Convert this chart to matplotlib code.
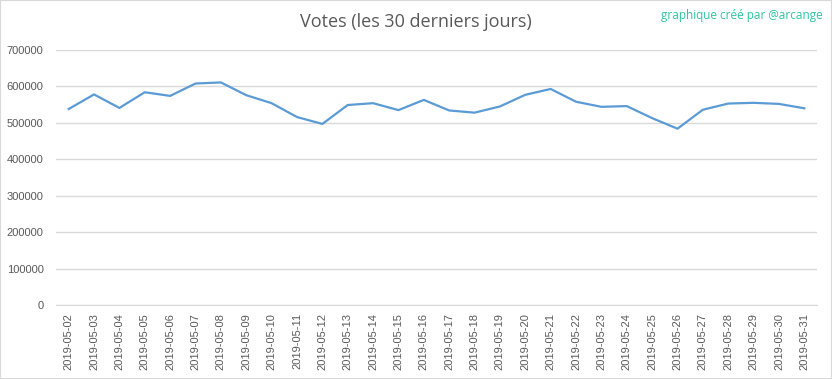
import matplotlib
matplotlib.use("Agg")
import matplotlib.pyplot as plt

dates = ["2019-05-%02d" % d for d in range(2, 32)]
votes = [538000, 578000, 541000, 584000, 574000, 608000, 611000, 576000, 554000, 516000,
         497000, 549000, 554000, 535000, 563000, 534000, 528000, 545000, 577000, 593000,
         558000, 544000, 546000, 513000, 484000, 536000, 553000, 555000, 552000, 540000]
yticks = [0, 100000, 200000, 300000, 400000, 500000, 600000, 700000]

plt.rcParams['font.family'] = ['Liberation Sans', 'DejaVu Sans']

fig = plt.figure(figsize=(8.32, 3.79), dpi=100)
ax = fig.add_axes([56/832, 1 - 305/379, 761/832, 255/379])

ax.plot(range(len(votes)), votes, color="#5B9BD5", linewidth=1.6)

ax.set_xlim(-0.5, len(votes) - 0.5)
ax.set_ylim(0, 700000)
ax.set_yticks(yticks)
ax.set_yticklabels([str(v) for v in yticks])
ax.set_xticks(range(len(dates)))
ax.set_xticklabels(dates, rotation=90)
ax.tick_params(axis="both", length=0, colors="#595959", labelsize=8)
ax.tick_params(axis="y", pad=9)
ax.tick_params(axis="x", pad=6)
ax.grid(axis="y", color="#D9D9D9", linewidth=1)
ax.set_axisbelow(True)
for s in ["top", "right", "left"]:
    ax.spines[s].set_visible(False)
ax.spines["bottom"].set_color("#D9D9D9")

fig.text(0.5, 1 - 22/379, "Votes (les 30 derniers jours)", ha="center", va="center",
         fontsize=13, color="#595959", family=["Open Sans", "DejaVu Sans"])
fig.text(823/832, 1 - 15/379, "graphique créé par @arcange", ha="right", va="center",
         fontsize=8.5, color="#2CC4A4", family=["Open Sans", "DejaVu Sans"])

fig.patches.append(plt.Rectangle((0, 0), 1, 1, transform=fig.transFigure, fill=False,
                                 edgecolor="#D9D9D9", linewidth=1.5))

fig.savefig("out.png", dpi=100)
